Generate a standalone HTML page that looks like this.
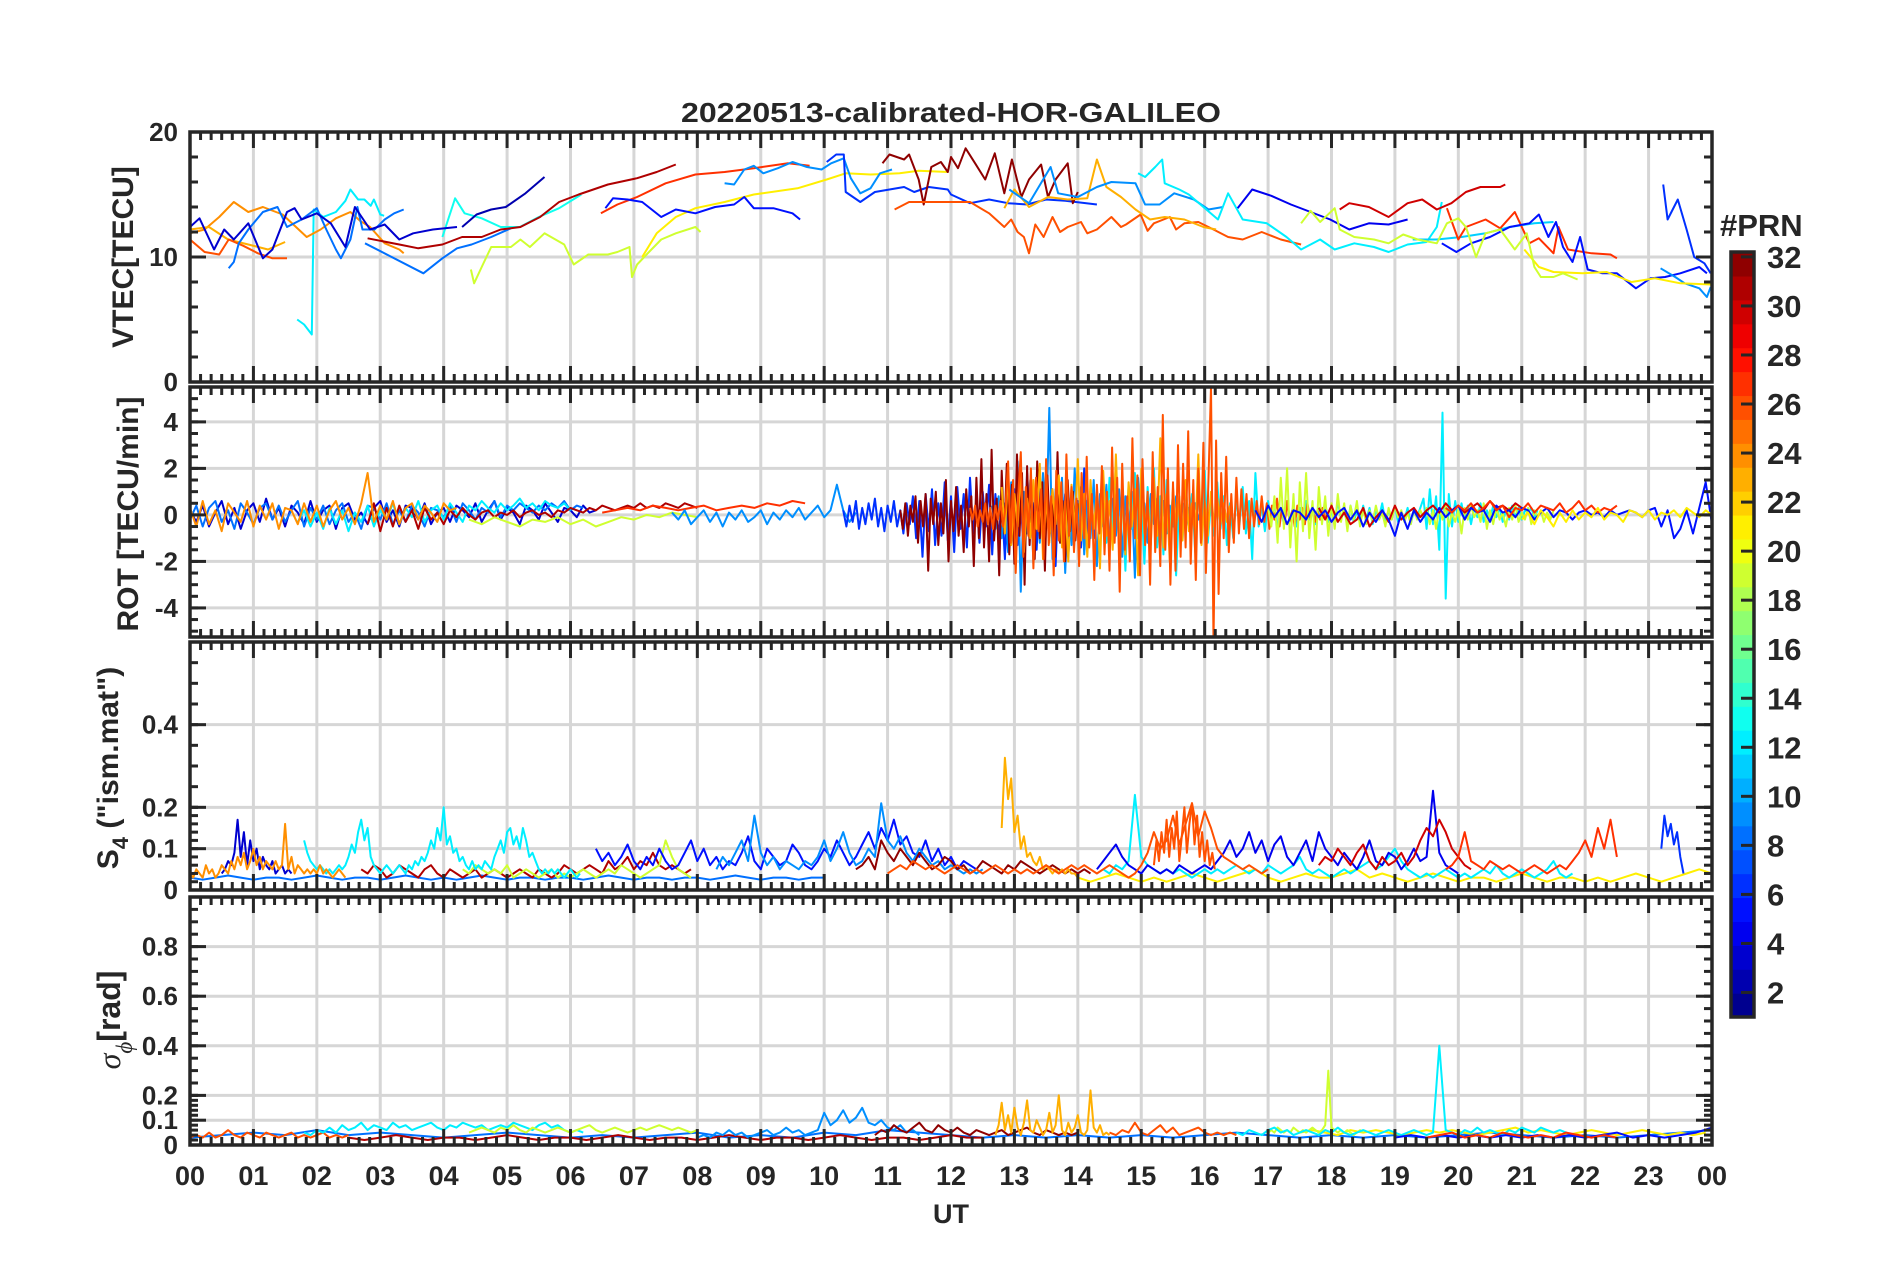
<!DOCTYPE html>
<html><head><meta charset="utf-8">
<style>
html,body{margin:0;padding:0;background:#fff;}
svg{display:block;}
text{font-family:"Liberation Sans",Arial,sans-serif;font-weight:bold;fill:#262626;}
</style></head>
<body>
<svg id="chart" width="1902" height="1272" viewBox="0 0 1902 1272" xmlns="http://www.w3.org/2000/svg">
<rect width="1902" height="1272" fill="#fff"/>
<defs>
<clipPath id="c0"><rect x="190" y="132" width="1522" height="250"/></clipPath>
<clipPath id="c1"><rect x="190" y="387" width="1522" height="250"/></clipPath>
<clipPath id="c2"><rect x="190" y="642" width="1522" height="248"/></clipPath>
<clipPath id="c3"><rect x="190" y="897" width="1522" height="248"/></clipPath>
</defs>
<g id="grids"></g>
<g id="data"></g>
<g id="axes"></g>
<text x="951" y="122" text-anchor="middle" font-size="28" textLength="540" lengthAdjust="spacingAndGlyphs">20220513-calibrated-HOR-GALILEO</text>
<text transform="translate(133,257) rotate(-90)" text-anchor="middle" font-size="30">VTEC[TECU]</text>
<text transform="translate(138,514) rotate(-90)" text-anchor="middle" font-size="30">ROT [TECU/min]</text>
<text transform="translate(118,768) rotate(-90)" text-anchor="middle" font-size="30">S<tspan font-size="22" dy="10">4</tspan><tspan dy="-10"> ("ism.mat")</tspan></text>
<text transform="translate(120,1020) rotate(-90)" text-anchor="middle" font-size="32"><tspan font-family="Liberation Serif" font-style="italic" font-weight="normal">σ</tspan><tspan font-family="Liberation Serif" font-style="italic" font-weight="normal" font-size="23" dy="12">ϕ</tspan><tspan dy="-12">[rad]</tspan></text>
<text x="951" y="1223" text-anchor="middle" font-size="27">UT</text>
<text x="1720" y="236" font-size="31">#PRN</text>
<g id="colorbar"></g>
</svg>
<script>
// ---------- VTEC data: [hour, TECU] ----------
const vtecP12a=[[1.69,5.0],[1.8,4.6],[1.92,3.8],[1.95,13.8],[2.1,13.2],[2.3,13.6],[2.45,14.5],[2.53,15.4],[2.65,14.6],[2.75,14.6],[2.85,14.1],[2.9,14.6],[3.0,13.4],[3.06,13.3]];
const vtecP13=[[3.98,11.6],[4.18,14.7],[4.33,13.5],[4.6,13.1],[4.9,12.4],[5.2,12.4],[5.5,13.2],[5.82,13.9],[6.17,15.0]];
const vtecP24a=[[0,11.9],[0.23,12.2],[0.46,13.2],[0.69,14.4],[0.92,13.6],[1.15,14.0],[1.46,13.4],[1.84,11.6],[2.06,12.2],[2.3,13.1],[2.53,13.6],[2.68,12.9],[2.84,12.4],[3.07,11.1],[3.3,10.6],[3.37,10.3]];
const vtecP24b=[[0,12.2],[0.3,12.4],[0.6,11.4],[0.92,11.0],[1.23,10.6],[1.5,11.2]];
const vtecP26a=[[0,11.4],[0.23,10.4],[0.46,10.2],[0.61,11.4],[0.84,10.9],[1.07,10.3],[1.3,9.9],[1.53,9.9]];
const vtecP8a=[[0.61,9.1],[0.69,9.6],[0.77,11.1],[0.92,12.2],[1.15,13.6],[1.38,14.0],[1.53,12.4],[1.76,13.0],[2.0,13.9],[2.15,12.2],[2.3,10.6],[2.38,9.9],[2.53,11.4],[2.64,14.0],[2.72,12.2],[2.91,12.2],[3.07,13.0],[3.22,13.5],[3.37,13.8]];
const vtecP8b=[[2.76,11.1],[3.68,8.7],[3.98,9.9],[4.21,10.7],[4.44,11.0],[4.75,11.6],[5.06,12.3]];
const vtecP3a=[[0,12.4],[0.15,13.1],[0.38,10.6],[0.54,12.2],[0.69,11.4],[0.92,12.7],[1.15,9.9],[1.3,10.6],[1.53,13.6],[1.65,13.9],[1.76,13.0],[2.0,13.5],[2.22,12.7],[2.45,10.8],[2.6,14.0],[2.84,12.2],[3.07,12.6],[3.3,11.4],[3.52,11.9],[3.83,12.2],[4.21,12.4]];
const vtecP2=[[4.29,12.4],[4.52,13.4],[4.75,13.8],[4.98,14.0],[5.29,15.1],[5.59,16.4]];
const vtecP31=[[2.8,11.5],[3.3,11.0],[3.6,10.7],[3.98,11.0],[4.29,11.6],[4.6,11.6],[4.9,12.2],[5.21,12.4],[5.52,13.2],[5.82,14.4],[6.13,15.0],[6.59,15.8],[7.05,16.3],[7.36,16.8],[7.66,17.4]];
const vtecP27a=[[6.48,13.5],[6.74,14.2],[7.05,14.8],[7.5,15.9],[7.97,16.6],[8.43,16.8],[8.89,17.1],[9.43,17.5],[9.77,17.3]];
const vtecP19a=[[4.43,9.0],[4.48,7.9],[4.6,9.2],[4.75,10.8],[5.06,10.8],[5.21,11.4],[5.36,10.8],[5.59,11.9],[5.9,11.0],[6.05,9.4],[6.28,10.2],[6.59,10.2],[6.74,10.4],[6.93,10.8],[6.97,8.4],[7.05,9.4],[7.2,10.2],[7.43,11.4],[7.66,11.9],[7.97,12.4],[8.05,12.0]];
const vtecP21a=[[7.13,10.0],[7.36,11.9],[7.66,13.2],[7.97,13.9],[8.43,14.4],[8.89,15.0],[9.58,15.5],[10.04,16.2],[10.34,16.7],[10.73,16.6],[11.19,16.7],[11.49,16.9],[11.95,16.8]];
const vtecP5a=[[6.55,13.9],[6.67,14.7],[6.9,14.6],[7.13,14.4],[7.43,13.2],[7.66,13.8],[7.97,13.5],[8.28,14.0],[8.58,14.2],[8.74,14.8],[8.89,13.9],[9.2,13.9],[9.5,13.5],[9.62,13.0]];
const vtecP9a=[[8.43,15.9],[8.58,15.8],[8.74,17.0],[8.89,17.3],[9.04,16.7],[9.27,17.1],[9.5,17.6],[9.73,17.2],[9.96,17.0],[10.11,17.5],[10.31,17.9],[10.42,16.3],[10.57,15.1],[10.73,15.5],[10.88,16.7],[11.07,17.0]];
const vtecP6a=[[10.04,17.6],[10.19,18.2],[10.31,18.2],[10.34,15.2],[10.57,14.4],[10.8,15.2],[11.03,15.4],[11.26,15.6],[11.42,15.2],[11.65,15.6],[11.95,15.4],[12.0,15.0],[12.3,14.3],[12.6,14.6],[12.9,14.3],[13.2,14.2],[13.5,14.6],[13.8,14.5],[14.3,14.2]];
const vtecP32=[[10.92,17.5],[11.03,18.2],[11.26,17.8],[11.34,18.2],[11.49,16.2],[11.57,14.2],[11.69,17.2],[11.84,17.6],[11.95,16.8],[12.0,18.0],[12.11,17.1],[12.23,18.7],[12.38,17.5],[12.54,16.2],[12.69,18.3],[12.84,15.1],[12.96,17.8],[13.11,14.8],[13.23,16.2],[13.42,17.4],[13.53,14.8],[13.65,16.2],[13.84,17.5],[13.92,14.3],[14.0,15.2]];
const vtecP26b=[[11.11,13.8],[11.34,14.4],[11.95,14.4],[12.3,14.4],[12.6,13.5],[12.84,12.4],[12.95,13.0],[13.05,12.0],[13.15,11.6],[13.23,10.3],[13.33,12.6],[13.46,11.6],[13.6,13.2],[13.72,12.0],[13.84,12.4],[14.05,12.8],[14.15,11.9],[14.3,12.2],[14.53,13.2],[14.68,12.4],[14.76,12.6],[14.99,13.4],[15.1,12.1],[15.2,12.7],[15.45,13.2],[15.55,12.2],[15.68,12.7],[15.9,12.8],[16.14,12.2],[16.37,11.6],[16.6,11.4],[16.9,12.0],[17.2,11.4],[17.52,11.0]];
const vtecP23=[[12.84,13.9],[13.0,15.4],[13.23,14.0],[13.53,14.8],[13.84,14.6],[14.15,14.7],[14.3,17.8],[14.45,15.6],[14.68,14.8],[14.91,13.8],[15.14,13.0],[15.37,13.2],[15.68,13.0],[15.98,12.4],[16.18,12.2]];
const vtecP12b=[[14.95,16.7],[15.06,16.4],[15.22,17.2],[15.33,17.8],[15.37,15.9],[15.6,15.4],[15.75,15.0],[15.98,14.0],[16.21,13.0],[16.37,15.1],[16.6,13.0],[16.98,12.7],[17.29,11.6],[17.52,10.6],[17.82,11.4],[18.05,10.6],[18.36,11.1],[18.67,10.8],[18.9,10.4],[19.2,11.0],[19.5,11.2],[19.66,12.4],[19.74,14.4]];
const vtecP11=[[19.28,11.4],[19.66,11.4],[20.05,11.6],[20.43,11.9],[20.81,12.4],[21.2,12.7],[21.5,12.8]];
const vtecP4=[[16.52,13.9],[16.75,15.4],[17.05,14.9],[17.36,14.2],[17.67,13.6],[17.98,13.0],[18.28,12.2],[18.59,12.7],[18.9,12.6],[19.2,13.0]];
const vtecP30=[[18.13,13.8],[18.28,14.3],[18.59,14.0],[18.9,13.2],[19.2,14.3],[19.43,14.6],[19.66,13.8],[19.89,14.3],[20.12,15.2],[20.35,15.6],[20.66,15.6],[20.74,15.8]];
const vtecP27b=[[19.82,13.9],[20.0,11.4],[20.12,12.4],[20.43,13.0],[20.66,12.3],[20.89,13.6],[21.12,11.1],[21.27,11.5],[21.5,10.3],[21.58,12.4],[21.73,10.6],[22.1,10.3],[22.4,10.2],[22.5,9.9]];
const vtecP5b=[[19.74,11.1],[19.97,10.4],[20.2,11.1],[20.5,11.6],[20.81,12.4],[21.12,12.7],[21.27,13.4],[21.42,11.6],[21.54,12.8],[21.65,10.8],[21.8,9.6],[21.92,11.6],[22.04,9.0],[22.27,8.7],[22.5,8.7],[22.8,7.5],[23.03,8.3],[23.26,8.4],[23.5,8.7],[23.8,9.2],[23.92,8.7]];
const vtecP6b=[[23.23,15.8],[23.3,13.0],[23.46,14.6],[23.6,12.2],[23.72,10.0],[23.88,9.5],[23.98,8.7]];
const vtecP9b=[[23.19,9.1],[23.42,8.4],[23.57,7.9],[23.8,7.5],[23.92,6.8],[23.98,7.6]];
const vtecP21b=[[21.04,10.6],[21.27,9.2],[21.5,8.8],[21.96,8.7],[22.34,8.8],[22.73,8.0],[23.1,8.3],[23.5,7.9],[23.98,7.8]];
const vtecP19b=[[17.52,12.7],[17.67,13.7],[17.82,12.8],[18.05,13.9],[18.13,12.2],[18.36,11.6],[18.67,11.4],[18.9,11.1],[19.13,11.8],[19.36,11.4],[19.66,11.1],[19.82,12.7],[20.0,13.1],[20.12,12.4],[20.28,10.0],[20.43,11.9],[20.66,12.2],[20.89,10.6],[21.08,11.9],[21.2,9.2],[21.3,8.4],[21.5,8.4],[21.65,8.7],[21.88,8.2]];
const vtecP9c=[[12.92,15.4],[13.23,14.3],[13.57,17.2],[13.69,15.1],[14.0,14.8],[14.3,15.6],[14.53,16.0],[14.91,15.9],[15.06,14.2],[15.29,14.2],[15.52,15.1],[15.83,14.6],[16.06,13.8],[16.29,14.0]];
const vtecSeries=[[12,vtecP12a],[13,vtecP13],[24,vtecP24a],[23,vtecP24b],[26,vtecP26a],[8,vtecP8a],[8,vtecP8b],[3,vtecP3a],[2,vtecP2],[31,vtecP31],[27,vtecP27a],[19,vtecP19a],[21,vtecP21a],[5,vtecP5a],[9,vtecP9a],[6,vtecP6a],[32,vtecP32],[26,vtecP26b],[23,vtecP23],[9,vtecP9c],[12,vtecP12b],[11,vtecP11],[4,vtecP4],[30,vtecP30],[27,vtecP27b],[5,vtecP5b],[6,vtecP6b],[9,vtecP9b],[21,vtecP21b],[19,vtecP19b]];

// ---------- ROT data: values sampled from start hour at fixed step ----------
const rotP3=[0.2,-0.3,0.4,-0.5,0.1,0.6,-0.4,0.3,-0.6,0.2,0.5,-0.3,0.7,-0.2,0.3,-0.5,0.4,0.1,-0.4,0.6,-0.3,0.2,0.4,-0.6,0.3,0.5,-0.2,0.1,-0.4,0.3,0.6,-0.3,0.2,-0.5,0.4,0.3,-0.2,0.5,-0.4,0.1,0.3,-0.3,0.4,0.2,-0.1,0.5,-0.3,0.2,0.6,-0.2,0.3,0.1,-0.4,0.4,0.2,-0.2,0.5,0.1,-0.3,0.3,0.2,-0.1,0.4,0.1,0.2];
const rotP8=[-0.2,0.4,-0.5,0.3,0.6,-0.3,0.2,-0.6,0.5,0.1,-0.4,0.3,0.5,-0.2,0.4,-0.3,0.2,0.6,-0.5,0.3,-0.2,0.4,-0.4,0.2,0.5,-0.3,0.1,-0.6,0.4,0.3,-0.2,0.5,-0.4,0.2,-0.3,0.4,0.1,-0.5,0.3,0.2,-0.1,0.4,-0.3,0.5,0.2,-0.2,0.3,0.1,0.6,-0.1,0.4,0.2,0.5,0.3,0.1,0.4,0.2,0.5,0.3,0.6,0.2,0.4,0.3];
const rotP24=[0.3,-0.5,0.6,-0.4,0.2,-0.7,0.5,0.1,-0.3,0.6,-0.5,0.4,-0.2,0.5,-0.6,0.3,0.2,-0.4,0.5,-0.3,0.4,-0.5,0.2,0.6,-0.2,0.3,-0.4,0.5,1.8,-0.3,0.4,-0.2,0.6,-0.4,0.3,0.5,-0.2,0.4,0.1,-0.3,0.5,0.2,0.3];
const rotP12=[-0.3,0.2,-0.5,0.1,-0.6,0.3,-0.4,0.2,-0.7,0.1,-0.3,0.4,-0.5,0.2,-0.2,0.5,-0.4,0.3,-0.1,0.6,-0.3,0.2,0.4,-0.2,0.5,0.1,-0.3,0.4,0.2,0.6,0.3,0.1,0.5,0.2,0.4,0.7,0.3,0.5,0.2,0.6,0.4,0.3,0.5,0.2];
const rotP31=[-0.4,0.5,-0.7,0.3,-0.5,0.4,-0.3,0.2,-0.6,0.3,-0.2,0.1,-0.4,0.2,-0.1,0.3,0,-0.2,0.1,0.2,-0.1,0.1,0,0.2,-0.1,0.1,0.2,0,0.1,-0.1,0.2,0.1,0.3,0.2,0.1,0.3,0.2,0.4,0.3,0.2,0.3,0.4,0.3,0.5,0.3,0.4,0.3,0.5,0.4,0.3,0.5,0.4,0.3];
const rotP19=[-0.2,-0.4,-0.1,-0.3,-0.5,-0.2,-0.3,-0.1,-0.4,-0.2,-0.5,-0.3,-0.1,-0.2,0,-0.1,0.1,0,-0.1];
const rotP27=[0.1,0.2,0.3,0.2,0.4,0.3,0.2,0.3,0.4,0.2,0.3,0.4,0.3,0.5,0.4,0.6,0.5];
const rotP9a=[0.1,-0.2,0.2,-0.4,-0.1,0.2,-0.3,0.1,-0.5,0.1,-0.2,0.2,-0.3,-0.1,0.2,-0.4,0.1,-0.2,0.2,-0.1,0.3,-0.2,0.1,0.4,-0.1,0.2,1.3,0.2,-0.3,0.1];
const rotP6=[0.2,-0.5,0.4,-0.3,0.6,-0.6,0.3,-0.4,0.5,-0.2,0.7,-0.5,0.3,-0.7,0.4,-0.3,0.6,-0.5,0.2,-0.8,0.5,-0.4,0.8,-1.0,0.6,-1.8,0.9,-0.7,1.1,-1.3,0.5,-0.9,1.4,-1.1,0.8,-1.6,1.2,-0.6,0.9,-1.4,1.6,-0.8,0.7,-1.2,1.0,-0.5,1.3,-1.7,0.9,-1.0,0.6,-1.9,1.5,-0.8,1.1,-1.3,0.7,-2.0,1.8,-0.9,0.5,-1.5,1.2,-0.7,1.6,-1.1,0.8,-2.2,1.4,-0.6,0.9,-1.8,1.1,-0.8,0.6,-1.4,2.0,-0.9,0.7,-1.0,0.4];
const rotP32=[0.2,-0.6,0.5,-0.9,0.4,-0.3,0.8,-1.2,0.6,-0.5,0.9,-2.4,0.7,-0.4,1.0,-1.3,0.5,-0.8,1.5,-2.0,0.6,-0.7,1.2,-0.9,0.4,-1.6,1.1,-0.5,0.8,-2.2,1.6,-1.0,2.4,-1.4,0.9,-2.0,2.8,-1.1,0.7,-2.6,1.9,-0.8,2.2,-1.7,1.3,-2.1,2.6,-0.9,1.8,-3.0,2.1,-1.3,0.9,-1.9,2.3,-1.0,1.4,-2.4,1.7,-0.8,1.1,-1.8,2.7,-1.2,0.6,-2.0,1.5,-0.7,1.0,-1.1,0.5];
const rotP26=[0.3,-0.2,0.4,-0.5,0.2,-0.3,0.5,-0.4,0.3,-0.6,0.4,-0.2,0.6,-0.5,0.3,2.3,-1.2,1.5,-2.5,0.8,2.7,-1.8,1.2,-0.9,2.0,-2.3,1.6,-0.7,1.1,-1.9,2.4,-1.3,0.8,-2.6,1.9,-1.1,1.4,-2.0,2.6,-0.9,1.2,-1.6,0.7,-2.2,1.8,-1.0,2.5,-1.4,0.9,-2.8,1.3,-0.8,2.1,-1.7,1.0,-2.4,2.9,-1.2,1.6,-3.3,2.2,-1.5,0.8,-2.0,3.3,-1.0,1.7,-2.6,2.4,-1.3,1.0,-3.0,2.7,-1.6,1.2,-2.2,4.3,-1.5,2.0,-3.0,1.4,-2.4,3.0,-1.8,2.2,-1.4,3.6,-2.1,1.5,-2.8,2.0,-1.2,3.1,-2.5,1.6,5.5,-5.5,3.2,-3.4,1.8,-1.0,2.5,-1.6,0.9,-1.2,1.6,-0.8,1.1,-0.6,0.9,-1.0,0.7,-0.5,0.6,-0.4,0.8,-0.3,0.5,-0.6,0.4,-0.2,0.7,-0.5,0.3,-0.4,0.6,-0.3,0.2,-0.5,0.4,-0.2,0.3,-0.4,0.5,-0.1,0.3,-0.3,0.2,-0.2,0.3,-0.1];
const rotP12b=[0.5,-1.2,1.6,-0.8,2.2,-1.5,0.9,-2.4,1.3,-0.6,1.8,-1.0,0.7,-2.1,1.2,-0.9,2.0,-1.4,0.8,-1.7,1.5,-0.7,1.0,-2.6,0.6,-1.1,1.3,-0.5,0.9,-1.6,1.1,-0.8,1.9,-1.2,0.6,-0.9,1.4,-0.6,0.8,-1.3,0.5,-1.0,0.7,-0.4,1.2,-0.8,0.6,-1.9,1.8,-0.5,0.4,-0.7,0.6,-0.3,0.5,-0.6,0.3,-0.4,0.5,-0.2,0.4,-0.5,0.3,-0.3,0.6,-0.2,0.4,-0.4,0.3,-0.1,0.5,-0.3,0.2,-0.4,0.6,-0.2,0.3,-0.5,0.4,-0.3,0.2,-0.3,0.4,-0.2,0.3,-0.4,0.2,-0.1,0.5,-0.3,0.2,-0.2,0.4,-0.3,0.1,-0.2,0.3,-0.4,0.2,-0.1,0.3,0.7,-0.6,1.1,-0.4,0.8,-1.5,4.4,-3.6,0.9,-0.5,0.6,-0.3,0.5,-0.2,0.4,-0.4,0.3,-0.1,0.5,-0.3,0.2,-0.2,0.4,-0.1,0.3,-0.3,0.2,-0.2,0.4,-0.1,0.3,-0.2,0.2,0.1,0.3,-0.1,0.2];
const rotP23=[1.2,-0.8,1.8,-1.3,0.9,-0.5,2.0,-1.6,0.7,-1.0,1.5,-0.6,2.2,-1.9,0.8,-1.2,1.1,-0.4,1.7,-1.4,0.6,-2.0,1.3,-0.7,2.4,-1.1,0.9,-1.8,1.5,-0.6,1.0,-2.3,1.9,-0.9,0.6,-1.5,2.6,-1.2,0.8,-1.7,1.4,-0.5,1.1,-2.6,2.0,-0.8,0.7,-1.3,1.6,-0.9,3.3,-1.4,0.9,-2.0,1.2,-0.6,0.8,-1.1,1.5,-0.7,0.5,-1.0,2.6,-1.3,0.6,-0.9,1.0,-0.5,0.7,-0.4,0.5,-0.3,0.4];
const rotP9b=[0.4,-0.6,0.8,-1.0,0.5,-1.6,1.4,-0.7,2.3,-3.3,1.0,-0.8,1.5,-2.1,0.9,-1.2,1.8,-0.6,4.6,-1.9,1.1,-0.9,1.6,-2.5,0.7,-1.3,2.0,-0.8,1.2,-1.7,0.6,-1.0,1.5,-2.2,0.9,-0.5,1.3,-1.4,0.7,-0.9,1.1,-1.8,0.8,-0.6,1.0,-2.7,1.6,-0.7,0.5,-1.2,0.9,-0.4,0.7,-1.0,0.6,-0.8,0.4,-0.5,0.8,-0.3,0.5,-0.6,0.3,-0.4,0.5,-0.2,0.3,-0.3,0.2];
const rotP19b=[0.3,-0.5,0.8,-1.2,1.6,-0.6,2.0,-1.4,0.9,-2.0,1.4,-0.7,1.8,-1.0,0.6,-1.5,1.2,-0.4,0.8,-0.9,0.5,-0.6,0.9,-0.3,0.5,-0.7,0.4,-0.2,0.6,-0.5,0.3,-0.4,0.2,-0.3,0.4,-0.2,0.1,-0.5,0.3,-0.2,0.4,-0.1,0.2,-0.3,0.1,-0.4,0.3,-0.2,0.2,-0.1,0.3,-0.4,0.2,-0.6,0.3,-0.2,0.4,-0.5,0.1,-0.3,0.2,-0.8,0.3,-0.2,0.4,-0.1,0.2,-0.3,0.5,-0.6,0.2,-0.4,0.3,-0.2,0.1,-0.5,0.3,-0.2,0.4,-0.3,0.1,-0.2,0.3,-0.4,0.2,-0.1,0.2,-0.3,0.1,-0.2,0.2];
const rotP30=[0.3,-0.2,0.4,-0.3,0.1,-0.4,-0.2,0.3,-0.5,-0.1,0.2,-0.3,0.4,-0.2,0.1,0.3,-0.1,0.2,0.4,0.1,0.5,0.2,0.4,0.1,0.3,0.5,0.2,0.6,0.3,0.4,0.2,0.5,0.3];
const rotP5=[0.2,-0.3,0.4,-0.1,0.3,-0.4,0.2,0.1,-0.2,0.3,-0.1,0.2,-0.3,0.1,0.3,-0.2,0.2,-0.5,0.1,-0.3,0.2,-0.2,-0.9,0.1,-0.6,0.2,-0.3,0.1,-0.2,0.3,-0.1,0.2,0.4,-0.2,0.3,0.1,0.2,-0.3,0.4,0.1,0.2,-0.1,0.3,0.2,-0.2,0.1,0.3,-0.1,0.2,0.1,-0.2,0.1,0.2,0,0.1,-0.1,0.2,0,0.1,0.2,0.1,-0.1,0.2,0.3,-0.5,0.2,-1.0,-0.6,0.2,-0.8,0.3,1.4,-0.4];
const rotP27b=[0.3,0.1,0.4,0.2,0.5,0.1,0.3,0.6,0.2,0.4,-0.1,0.3,0.2,0.5,0.1,0.4,0.3,0.2,0.5,0.1,0.3,0.6,0.2,0.4,0.1,0.3,0.2,0.4];
const rotP21=[-0.2,0.1,-0.4,0.2,-0.1,-0.5,0.1,-0.3,0.2,-0.2,0.1,-0.1,0.3,-0.2,0.1,0,-0.3,0.2,0.1,-0.1,0.2,-0.2,0.1,0,0.2,-0.1,0.3,0.1,-0.1,0.2,0];
// [prn, start hour, step hours, values]
const rotSeries=[[3,0,0.1,rotP3],[8,0,0.1,rotP8],[12,1.7,0.1,rotP12],[31,2.8,0.1,rotP31],[24,0,0.1,rotP24],[19,4.4,0.2,rotP19],[27,6.5,0.2,rotP27],[9,7.6,0.1,rotP9a],[6,10.3,0.05,rotP6],[9,12.65,0.05,rotP9b],[32,11.2,0.04,rotP32],[12,14.4,0.05,rotP12b],[23,12.8,0.05,rotP23],[26,12.3,0.04,rotP26],[19,17.0,0.05,rotP19b],[30,17.8,0.1,rotP30],[5,16.8,0.1,rotP5],[27,19.8,0.1,rotP27b],[21,21.0,0.1,rotP21]];

// ---------- S4 data ----------
const s4P8=[0.03,0.025,0.03,0.035,0.03,0.025,0.03,0.03,0.025,0.03,0.035,0.03,0.025,0.03,0.03,0.025,0.03,0.035,0.03,0.025,0.03,0.025,0.03,0.035,0.03,0.025,0.03,0.03,0.025,0.03,0.03,0.025,0.03,0.035,0.03,0.025,0.03,0.03,0.025,0.03,0.03,0.025,0.03,0.035,0.03,0.025,0.03,0.03,0.025,0.03,0.03];
const s4P3=[0.04,0.05,0.07,0.06,0.09,0.17,0.08,0.14,0.06,0.12,0.07,0.10,0.05,0.08,0.06,0.05,0.07,0.04,0.05,0.06,0.04,0.05,0.04];
const s4P24=[0.04,0.03,0.05,0.04,0.03,0.06,0.04,0.05,0.03,0.04,0.06,0.05,0.04,0.07,0.05,0.08,0.06,0.09,0.05,0.07,0.10,0.06,0.08,0.05,0.07,0.06,0.05,0.07,0.05,0.06,0.16,0.05,0.08,0.04,0.06,0.05,0.04,0.05,0.04,0.05,0.04,0.06,0.04,0.05,0.04,0.03,0.04,0.05,0.04,0.03];
const s4P12a=[0.12,0.09,0.07,0.06,0.05,0.06,0.05,0.04,0.05,0.04,0.05,0.06,0.05,0.06,0.08,0.11,0.09,0.14,0.17,0.12,0.15,0.08,0.06,0.05,0.04,0.05,0.06,0.05,0.04,0.05,0.06,0.05,0.04,0.06,0.05,0.07,0.06,0.08,0.07,0.09,0.12,0.10,0.15,0.12,0.20,0.11,0.13,0.09,0.10,0.07,0.08,0.06,0.05,0.07,0.05,0.06,0.05,0.07,0.06,0.05,0.08,0.10,0.12,0.09,0.14,0.15,0.11,0.13,0.10,0.15,0.12,0.08,0.09,0.07,0.05,0.04,0.05,0.04,0.05,0.04,0.05,0.04,0.03,0.04,0.05,0.04,0.03,0.04];
const s4P31=[0.05,0.04,0.06,0.05,0.03,0.04,0.06,0.05,0.04,0.03,0.05,0.06,0.04,0.03,0.05,0.04,0.03,0.04,0.05,0.03,0.04,0.05,0.04,0.03,0.04,0.05,0.04,0.03,0.05,0.04,0.03,0.04,0.06,0.05,0.04,0.05,0.06,0.05,0.04,0.07,0.05,0.06,0.08,0.05,0.07,0.06,0.09,0.06,0.05,0.06,0.05,0.04,0.05];
const s4P19=[0.05,0.04,0.06,0.05,0.04,0.05,0.04,0.06,0.03,0.04,0.05,0.04,0.03,0.04,0.05,0.03,0.04,0.03,0.04,0.05,0.04,0.03,0.04,0.05,0.04,0.06,0.05,0.04,0.03,0.04,0.05,0.06,0.12,0.08,0.05,0.04,0.03];
const s4P5=[0.10,0.07,0.09,0.06,0.08,0.11,0.07,0.05,0.08,0.06,0.10,0.07,0.05,0.06,0.09,0.12,0.07,0.10,0.06,0.08,0.05,0.07,0.06,0.09,0.13,0.07,0.05,0.10,0.08,0.06,0.07,0.11,0.09,0.06,0.05,0.07,0.10,0.08,0.12,0.09,0.06,0.08,0.11,0.14,0.10,0.15,0.12,0.17,0.11,0.13,0.09,0.08,0.12,0.07,0.10,0.06,0.08,0.05,0.07,0.06,0.05];
const s4P9=[0.05,0.08,0.06,0.09,0.12,0.07,0.18,0.09,0.06,0.08,0.05,0.07,0.06,0.05,0.07,0.06,0.08,0.12,0.07,0.10,0.14,0.09,0.06,0.07,0.10,0.08,0.21,0.12,0.10,0.13,0.09,0.07,0.10,0.08,0.06,0.07,0.05,0.06,0.05,0.04,0.05,0.04,0.05];
const s4P32=[0.05,0.06,0.08,0.05,0.12,0.09,0.07,0.10,0.08,0.06,0.09,0.07,0.05,0.06,0.08,0.07,0.05,0.06,0.04,0.05,0.07,0.06,0.05,0.04,0.06,0.05,0.07,0.06,0.05,0.04,0.05,0.06,0.05,0.04,0.05,0.04,0.05,0.04];
const s4P23=[0.15,0.32,0.22,0.27,0.14,0.18,0.10,0.13,0.08,0.09,0.07,0.06,0.08,0.05,0.06,0.05,0.04,0.05,0.04,0.05,0.04,0.05,0.04,0.04,0.03];
const s4P26=[0.04,0.05,0.06,0.05,0.07,0.06,0.05,0.06,0.05,0.04,0.05,0.06,0.05,0.04,0.05,0.04,0.05,0.06,0.05,0.04,0.05,0.04,0.05,0.04,0.05,0.06,0.05,0.04,0.05,0.06,0.05,0.06,0.05,0.04,0.05,0.06,0.05,0.04,0.03,0.04,0.06,0.09,0.14,0.10,0.12,0.18,0.11,0.16,0.21,0.13,0.19,0.15,0.10,0.08,0.07,0.06,0.05,0.06,0.05,0.04,0.05];
const s4P26b=[0.06,0.12,0.07,0.14,0.09,0.17,0.08,0.15,0.10,0.19,0.07,0.13,0.20,0.09,0.16,0.21,0.11,0.18,0.08,0.14,0.07,0.12,0.06,0.09,0.05];
const s4P12b=[0.05,0.04,0.06,0.05,0.07,0.23,0.08,0.06,0.05,0.04,0.05,0.04,0.05,0.04,0.03,0.04,0.05,0.04,0.05,0.04,0.05,0.06,0.05,0.04,0.05,0.04,0.06,0.05,0.04,0.05,0.06,0.08,0.05,0.04,0.05,0.04,0.03,0.04,0.05,0.04,0.05,0.06,0.07,0.05,0.06,0.08,0.10,0.07,0.05,0.04,0.03,0.04,0.03,0.04,0.05,0.04,0.03,0.04,0.03,0.04,0.05,0.04,0.06,0.04,0.03,0.04,0.05,0.04,0.03,0.04,0.05,0.07,0.04,0.03,0.04];
const s4P4=[0.05,0.07,0.09,0.11,0.08,0.06,0.05,0.04,0.06,0.05,0.04,0.05,0.04,0.06,0.05,0.04,0.05,0.06,0.05,0.07,0.09,0.12,0.08,0.10,0.14,0.09,0.12,0.07,0.11,0.13,0.08,0.06,0.09,0.12,0.07,0.14,0.10,0.08,0.06,0.09,0.07,0.05,0.08,0.12,0.07,0.06,0.09,0.08,0.05,0.07,0.10,0.07,0.08,0.24,0.09,0.06,0.05,0.04];
const s4P30=[0.06,0.08,0.07,0.10,0.08,0.06,0.09,0.11,0.07,0.05,0.08,0.06,0.07,0.09,0.06,0.08,0.12,0.15,0.13,0.17,0.14,0.10,0.08,0.06,0.05];
const s4P27=[0.05,0.06,0.08,0.14,0.07,0.06,0.05,0.07,0.06,0.05,0.06,0.05,0.04,0.05,0.06,0.05,0.04,0.05,0.06,0.05,0.07,0.09,0.12,0.08,0.15,0.10,0.17,0.08];
const s4P6=[0.10,0.18,0.13,0.16,0.11,0.14,0.08,0.04];
const s4P21=[0.03,0.02,0.03,0.04,0.03,0.02,0.03,0.02,0.03,0.04,0.03,0.02,0.03,0.04,0.05,0.03,0.02,0.03,0.04,0.03,0.03,0.04,0.05,0.03,0.04,0.03,0.02,0.03,0.04,0.03,0.02,0.03,0.03,0.02,0.03,0.04,0.03,0.02,0.03,0.03,0.02,0.03,0.02,0.03,0.04,0.03,0.02,0.03,0.04,0.05,0.04];
const s4Series=[[8,0,0.2,s4P8],[21,14.0,0.2,s4P21],[31,2.7,0.1,s4P31],[19,4.3,0.1,s4P19],[12,1.8,0.05,s4P12a],[3,0.5,0.05,s4P3],[24,0,0.05,s4P24],[5,6.4,0.1,s4P5],[9,8.3,0.1,s4P9],[32,10.5,0.1,s4P32],[23,12.8,0.05,s4P23],[12,14.4,0.1,s4P12b],[4,14.3,0.1,s4P4],[26,11.0,0.1,s4P26],[26,15.2,0.04,s4P26b],[30,17.8,0.1,s4P30],[27,19.8,0.1,s4P27],[6,23.2,0.05,s4P6]];

// ---------- Sigma-phi data ----------
const sgP8=[0.03,0.04,0.05,0.04,0.06,0.04,0.05,0.04,0.03,0.04,0.05,0.04,0.03,0.04,0.03,0.04,0.05,0.03,0.04,0.03,0.05,0.04,0.06,0.05,0.04,0.03,0.04,0.03,0.04,0.03,0.04,0.03,0.04,0.05,0.04,0.03,0.04,0.03,0.04,0.03,0.04,0.05,0.04,0.03,0.04,0.03,0.04,0.05,0.06];
const sgP26=[0.03,0.04,0.03,0.05,0.03,0.04,0.06,0.04,0.03,0.05,0.04,0.03,0.05,0.04,0.03,0.04,0.05,0.03,0.04,0.03,0.04,0.05,0.03,0.04,0.03,0.04];
const sgP12=[0.05,0.04,0.06,0.05,0.07,0.05,0.08,0.06,0.07,0.09,0.06,0.08,0.07,0.06,0.09,0.07,0.08,0.06,0.07,0.08,0.09,0.07,0.06,0.08,0.07,0.09,0.08,0.07,0.08,0.06,0.07,0.08,0.07,0.09,0.08,0.07,0.06,0.08,0.09,0.07,0.08,0.06,0.05,0.06,0.05];
const sgP31=[0.03,0.02,0.03,0.04,0.03,0.02,0.03,0.03,0.02,0.03,0.04,0.03,0.02,0.03,0.03,0.02,0.03,0.04,0.03,0.02,0.03,0.03,0.02,0.03,0.04,0.03,0.02,0.03,0.03,0.02,0.03,0.04,0.03,0.02,0.03,0.03,0.02,0.03,0.04,0.03,0.03];
const sgP19=[0.05,0.06,0.07,0.06,0.05,0.07,0.06,0.08,0.06,0.05,0.07,0.06,0.05,0.06,0.07,0.06,0.05,0.06,0.07,0.08,0.06,0.05,0.06,0.07,0.06,0.05,0.06,0.07,0.06,0.07,0.08,0.07,0.06,0.07,0.06,0.05,0.06];
const sgP9=[0.03,0.04,0.03,0.05,0.04,0.06,0.04,0.05,0.03,0.04,0.05,0.06,0.04,0.05,0.07,0.05,0.06,0.04,0.05,0.06,0.13,0.08,0.10,0.14,0.09,0.11,0.15,0.09,0.08,0.10,0.07,0.06,0.08,0.05,0.06,0.04];
const sgP32=[0.04,0.06,0.05,0.08,0.06,0.05,0.07,0.09,0.06,0.05,0.08,0.06,0.05,0.07,0.05,0.04,0.06,0.05,0.04,0.05,0.06,0.04,0.05,0.06,0.07,0.05,0.04,0.06,0.05,0.04,0.05,0.04,0.05];
const sgP23=[0.04,0.08,0.17,0.06,0.12,0.05,0.15,0.07,0.04,0.09,0.18,0.06,0.05,0.10,0.07,0.04,0.06,0.13,0.05,0.08,0.20,0.06,0.04,0.09,0.05,0.07,0.12,0.05,0.04,0.06,0.22,0.07,0.05,0.08,0.04,0.05,0.04];
const sgP26b=[0.05,0.04,0.06,0.05,0.09,0.05,0.04,0.06,0.08,0.05,0.07,0.04,0.05,0.06,0.07,0.05,0.04,0.05,0.04,0.05,0.04];
const sgP12b=[0.05,0.04,0.06,0.05,0.04,0.06,0.07,0.05,0.06,0.04,0.05,0.06,0.05,0.04,0.06,0.05,0.07,0.05,0.04,0.05,0.06,0.05,0.04,0.05,0.06,0.05,0.04,0.05,0.06,0.05,0.04,0.05,0.40,0.06,0.05,0.04,0.06,0.05,0.07,0.05,0.06,0.05,0.04,0.06,0.05,0.07,0.06,0.05,0.07,0.06,0.05,0.06,0.05,0.04];
const sgP19b=[0.05,0.06,0.05,0.07,0.06,0.05,0.06,0.05,0.07,0.06,0.05,0.06,0.05,0.06,0.07,0.06,0.05,0.06,0.08,0.30,0.07,0.06,0.05,0.06,0.05,0.06,0.05,0.04,0.05,0.06,0.05];
const sgP5=[0.03,0.04,0.03,0.04,0.03,0.04,0.03,0.04,0.03,0.04,0.03,0.04,0.03,0.04,0.05,0.03,0.04,0.03,0.04,0.05,0.07];
const sgP21=[0.05,0.06,0.05,0.04,0.06,0.05,0.06,0.05,0.04,0.05,0.06,0.05,0.06,0.05,0.04,0.05,0.06,0.07,0.05,0.06,0.05,0.04,0.05,0.06,0.05,0.04,0.05,0.06,0.05,0.04,0.05,0.04,0.05];
const sgP27=[0.03,0.04,0.05,0.03,0.04,0.03,0.05,0.04,0.03,0.04,0.03,0.05,0.04,0.03,0.04,0.03];
const sgSeries=[[8,0,0.5,sgP8],[26,0,0.1,sgP26],[12,1.8,0.1,sgP12],[31,2.5,0.25,sgP31],[19,4.4,0.1,sgP19],[9,8.0,0.1,sgP9],[32,10.8,0.1,sgP32],[23,12.7,0.05,sgP23],[26,14.5,0.1,sgP26b],[21,17.5,0.2,sgP21],[19,17.0,0.05,sgP19b],[12,16.5,0.1,sgP12b],[5,19.0,0.25,sgP5],[27,19.5,0.2,sgP27]];

// ---------- axis tick definitions ----------
const hourLabels=["00","01","02","03","04","05","06","07","08","09","10","11","12","13","14","15","16","17","18","19","20","21","22","23","00"];
const p1Ticks=[0,10,20];
const p2Ticks=[-4,-2,0,2,4];
const p3Ticks=[0,0.1,0.2,0.4];
const p4Ticks=[0,0.1,0.2,0.4,0.6,0.8];
const cbTicks=[2,4,6,8,10,12,14,16,18,20,22,24,26,28,30,32];

// ---------- rendering ----------
const NS="http://www.w3.org/2000/svg";
const X0=190,X1=1712;
const xs=h=>X0+h*(X1-X0)/24;
const panels=[
 {top:132,bot:382,min:0,max:20,ticks:p1Ticks,minor:[[0,20,2]],grid:[10],lab:v=>String(v),name:'vtec'},
 {top:387,bot:637,min:-5.25,max:5.5,ticks:p2Ticks,minor:[[-5,5.5,0.5]],grid:[-4,-2,0,2,4],lab:v=>String(v),name:'rot'},
 {top:642,bot:890,min:0,max:0.6,ticks:p3Ticks,minor:[[0,0.2,0.02],[0.2,0.6,0.05]],grid:[0.1,0.2,0.4],lab:v=>String(v),name:'s4'},
 {top:897,bot:1145,min:0,max:1,ticks:p4Ticks,minor:[[0,0.2,0.02],[0.2,1,0.05]],grid:[0.1,0.2,0.4,0.6,0.8],lab:v=>String(v),name:'sigma-phi'}
];
panels.forEach(p=>{p.ys=v=>p.bot-(v-p.min)/(p.max-p.min)*(p.bot-p.top);});

function jet(k){const x=(k-0.5)/32;const c=t=>Math.round(255*Math.max(0,Math.min(1,t)));
 return `rgb(${c(Math.min(4*x-1.5,-4*x+4.5))},${c(Math.min(4*x-0.5,-4*x+3.5))},${c(Math.min(4*x+0.5,-4*x+2.5))})`;}
function el(tag,attrs,parent){const e=document.createElementNS(NS,tag);for(const k in attrs)e.setAttribute(k,attrs[k]);parent.appendChild(e);return e;}

const gGrid=document.getElementById('grids'),gData=document.getElementById('data'),gAx=document.getElementById('axes');

panels.forEach((p,pi)=>{
 for(let h=1;h<24;h++){const l=el('line',{x1:xs(h),x2:xs(h),y1:p.top,y2:p.bot,stroke:'#d6d6d6','stroke-width':3},gGrid);
  
  }
 p.grid.forEach(v=>{const l=el('line',{x1:X0,x2:X1,y1:p.ys(v),y2:p.ys(v),stroke:'#d6d6d6','stroke-width':3},gGrid);
  
  });
 const tg=el('g',{stroke:'#262626','stroke-width':3},gAx);
 
 
 for(let m=0;m<=24*6;m++){const x=xs(m/6);const L=(m%6===0)?16:8;
  el('line',{x1:x,x2:x,y1:p.top,y2:p.top+L},tg);el('line',{x1:x,x2:x,y1:p.bot,y2:p.bot-L},tg);}
 p.minor.forEach(([a,b,s])=>{for(let v=a;v<=b+1e-9;v+=s){const y=p.ys(v);if(y<p.top-1||y>p.bot+1)continue;
  el('line',{x1:X0,x2:X0+8,y1:y,y2:y},tg);el('line',{x1:X1,x2:X1-8,y1:y,y2:y},tg);}});
 p.ticks.forEach(v=>{const y=p.ys(v);el('line',{x1:X0,x2:X0+16,y1:y,y2:y},tg);el('line',{x1:X1,x2:X1-16,y1:y,y2:y},tg);
  const t=el('text',{x:178,y:y+9,'text-anchor':'end','font-size':26},gAx);t.textContent=p.lab(v);
  
  });
 const fr=el('rect',{x:X0,y:p.top,width:X1-X0,height:p.bot-p.top,fill:'none',stroke:'#262626','stroke-width':3.5},gAx);
 
 
});

function drawPts(pi,prn,pts,name){const p=panels[pi];
 const d=pts.map((q,i)=>(i?'L':'M')+xs(q[0]).toFixed(1)+' '+p.ys(q[1]).toFixed(1)).join('');
 const path=el('path',{d:d,fill:'none',stroke:jet(prn),'stroke-width':2,'stroke-linejoin':'round','clip-path':`url(#c${pi})`},gData);
 
 }
vtecSeries.forEach(([prn,pts])=>drawPts(0,prn,pts,'vtec-line'));
function drawSteps(pi,series,name){series.forEach(([prn,t0,st,vals])=>{drawPts(pi,prn,vals.map((v,i)=>[t0+i*st,v]),name);});}
drawSteps(1,rotSeries,'rot-line');
drawSteps(2,s4Series,'s4-line');
drawSteps(3,sgSeries,'sigma-phi-line');

hourLabels.forEach((s,i)=>{const t=el('text',{x:xs(i),y:1185,'text-anchor':'middle','font-size':27},gAx);t.textContent=s;
 
 });

const cb=document.getElementById('colorbar');


const CBT=252,CBB=1017,cmin=1,cmax=32.2;
const cy=v=>CBB-(v-cmin)/(cmax-cmin)*(CBB-CBT);
for(let k=1;k<=32;k++){const y0=CBB-(k-1)/32*(CBB-CBT),y1=CBB-k/32*(CBB-CBT);
 const r=el('rect',{x:1731,y:y1,width:23,height:y0-y1+0.6,fill:jet(k)},cb);
 
 }
el('rect',{x:1731,y:CBT,width:23,height:CBB-CBT,fill:'none',stroke:'#262626','stroke-width':3.5},cb);
cbTicks.forEach(v=>{const y=cy(v);el('line',{x1:1754,x2:1741,y1:y,y2:y,stroke:'#262626','stroke-width':3},cb);
 const t=el('text',{x:1767,y:y+11,'font-size':31},cb);t.textContent=String(v);
 
 });
</script>
</body></html>
